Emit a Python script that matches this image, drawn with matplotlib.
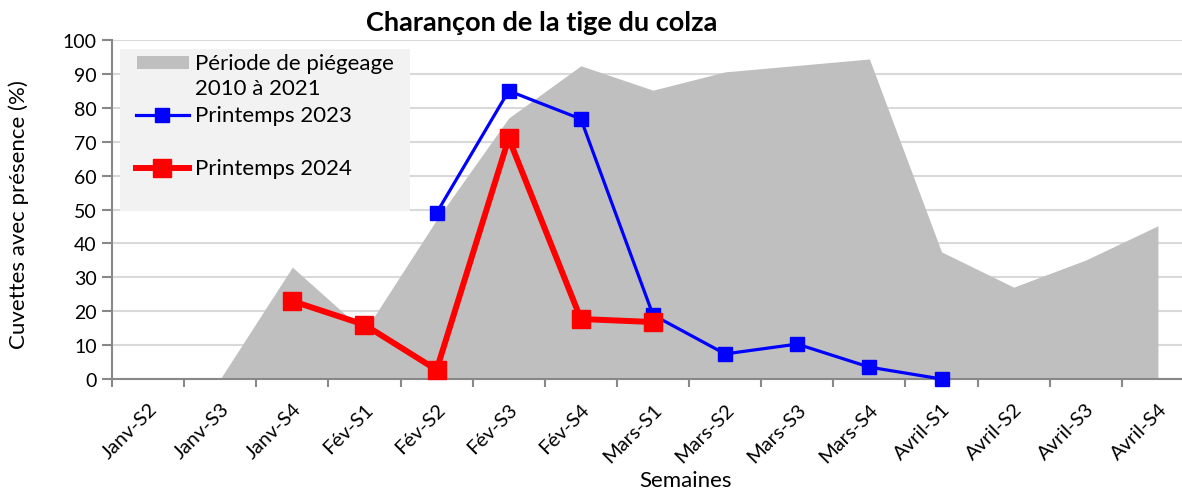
import matplotlib.pyplot as plt
from matplotlib.patches import Rectangle
from matplotlib.lines import Line2D
import numpy as np

plt.rcParams['font.family'] = ['Lato', 'DejaVu Sans']

semaines = ['Janv-S2', 'Janv-S3', 'Janv-S4', 'Fév-S1', 'Fév-S2', 'Fév-S3', 'Fév-S4',
            'Mars-S1', 'Mars-S2', 'Mars-S3', 'Mars-S4', 'Avril-S1', 'Avril-S2',
            'Avril-S3', 'Avril-S4']
periode = [np.nan, 0, 33, 14, 47, 77, 92.4, 85.2, 90.6, 92.5, 94.4, 37.5, 27.1, 35.1, 45.2]
p2023 = [np.nan, np.nan, np.nan, np.nan, 49, 85, 76.7, 18.9, 7.4, 10.3, 3.5, 0,
         np.nan, np.nan, np.nan]
p2024 = [np.nan, np.nan, 23, 16, 2.7, 71, 17.7, 16.8, np.nan, np.nan, np.nan, np.nan,
         np.nan, np.nan, np.nan]

W, H = 1182, 489
fig = plt.figure(figsize=(W / 100, H / 100), dpi=100)
ax_l, ax_r, ax_t, ax_b = 112, 1194, 41, 380
ax = fig.add_axes([ax_l / W, (H - ax_b) / H, (ax_r - ax_l) / W, (ax_b - ax_t) / H])

x = np.arange(len(semaines))
per = np.array(periode, dtype=float)
ok = ~np.isnan(per)
ax.fill_between(x[ok], 0, per[ok], color='#bfbfbf', lw=0, zorder=2)
ax.plot(x, p2023, color='#0000ff', lw=2.3, marker='s', ms=10.5, zorder=7, clip_on=False)
ax.plot(x, p2024, color='#ff0000', lw=4.3, marker='s', ms=13, zorder=8, clip_on=False)

ax.set_xlim(-0.5, len(semaines) - 0.5)
ax.set_ylim(0, 100)
ax.set_yticks(range(0, 101, 10))
ax.set_xticks(np.arange(len(semaines) + 1) - 0.5, minor=False)
ax.set_xticklabels([])
ax.set_xticks(x, minor=True)
ax.set_xticklabels(semaines, minor=True, rotation=45, ha='right',
                   rotation_mode='anchor', fontsize=14.5)
ax.tick_params(axis='x', which='minor', length=0, pad=15)
ax.tick_params(axis='x', which='major', length=6, width=1.5, color='#888888')
ax.tick_params(axis='y', length=7, width=1.5, color='#888888', labelsize=14, pad=4)
ax.grid(axis='y', color='#d9d9d9', lw=1.5, zorder=0)
ax.set_axisbelow(True)
for s in ['top', 'right']:
    ax.spines[s].set_visible(False)
for s in ['left', 'bottom']:
    ax.spines[s].set_color('#888888')
    ax.spines[s].set_linewidth(1.5)
    ax.spines[s].set_zorder(6)

ax.set_ylabel('Cuvettes avec présence (%)', fontsize=16)
ax.yaxis.set_label_coords(-0.077, 0.487)
ax.set_xlabel('Semaines', fontsize=16)
ax.xaxis.set_label_coords((686 - ax_l) / (ax_r - ax_l), -0.268)

fig.text(542 / W, 1 - 23 / H, 'Charançon de la tige du colza', fontsize=19.5,
         fontweight='bold', ha='center', va='center')

# legend drawn by hand to match layout
def fx(px):
    return (px - ax_l) / (ax_r - ax_l)

def fy(py):
    return (ax_b - py) / (ax_b - ax_t)

ax.add_patch(Rectangle((fx(120), fy(212)), fx(410) - fx(120), fy(50) - fy(212),
                       transform=ax.transAxes, facecolor='#f2f2f2', edgecolor='none',
                       zorder=9))
ax.add_patch(Rectangle((fx(137), fy(70)), fx(189) - fx(137), fy(57) - fy(70),
                       transform=ax.transAxes, facecolor='#bfbfbf', edgecolor='none',
                       zorder=10))
ax.add_line(Line2D([fx(136), fx(189)], [fy(116)] * 2, transform=ax.transAxes,
                   color='#0000ff', lw=2.3, zorder=10))
ax.add_line(Line2D([fx(162)], [fy(116)], transform=ax.transAxes, color='#0000ff',
                   marker='s', ms=10.5, zorder=11))
ax.add_line(Line2D([fx(136), fx(189)], [fy(169)] * 2, transform=ax.transAxes,
                   color='#ff0000', lw=4.3, zorder=10))
ax.add_line(Line2D([fx(162)], [fy(169)], transform=ax.transAxes, color='#ff0000',
                   marker='s', ms=13, zorder=11))
for txt, py in [('Période de piégeage', 64), ('2010 à 2021', 89),
                ('Printemps 2023', 116), ('Printemps 2024', 169)]:
    ax.text(fx(195), fy(py), txt, transform=ax.transAxes, fontsize=16,
            va='center', ha='left', zorder=11)

fig.savefig('out.png', dpi=100)
